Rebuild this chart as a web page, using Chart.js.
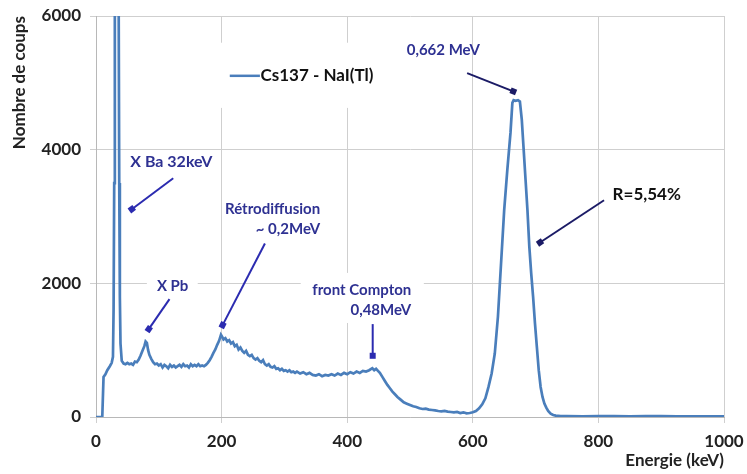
<!DOCTYPE html>
<html>
<head>
<meta charset="utf-8">
<script src="https://cdn.jsdelivr.net/npm/chart.js@4.4.1/dist/chart.umd.min.js"></script>
<style>
  html, body { margin: 0; padding: 0; background: #fff; }
  #wrap { width: 747px; height: 474px; }
</style>
</head>
<body>
<div id="wrap"><canvas id="spectre" width="747" height="474"></canvas></div>
<script>
// spectre Cs137 (keV / coups)
const energies = [0, 5, 10, 11, 12, 15, 18, 22, 25, 27, 28, 29, 30, 33, 36, 37, 38, 39, 41, 44, 47, 50, 53, 56, 59, 62, 65, 68, 71, 74, 77, 79, 81, 83, 85, 88, 91, 94, 97,
  100, 103, 106, 109, 112, 115, 118, 121, 124, 127, 130, 133, 136, 139, 142, 145, 148, 151, 154, 157, 160, 163, 166, 169, 172, 175, 178, 181, 184, 187, 190, 193, 196, 199,
  201, 203, 206, 209, 212, 215, 218, 221, 224, 227, 230, 233, 236, 239, 242, 245, 248, 251, 254, 257, 260, 263, 266, 269, 272, 275, 278, 281, 284, 287, 290, 293, 296, 299,
  302, 305, 308, 311, 314, 317, 320, 325, 330, 335, 340, 345, 350, 355, 360, 365, 370, 375, 380, 385, 390, 395, 400, 405, 410, 415, 420, 425, 430, 435, 440, 443, 446, 449,
  452, 456, 460, 464, 468, 472, 476, 480, 485, 490, 495, 500, 505, 510, 515, 520, 525, 530, 535, 540, 545, 550, 555, 560, 565, 570, 575, 580, 585, 590, 595, 600, 605, 610,
  615, 620, 625, 630, 635, 640, 645, 650, 655, 660, 663, 665, 668, 672, 675, 678, 681, 684, 687, 690, 693, 696, 699, 702, 705, 708, 711, 714, 717, 720, 724, 728, 732, 740,
  750, 775, 800, 825, 850, 875, 900, 925, 950, 975, 1000]
const coups = [0, 0, 0, 0, 600, 640, 700, 760, 810, 900, 1600, 3500, 6500, 8000, 6500, 3500, 1800, 1100, 840, 800, 790, 810, 790, 800, 780, 830, 820, 860, 920, 990, 1060, 1130, 1110, 1000, 930, 870, 820, 790, 800,
  770, 790, 740, 780, 760, 730, 780, 750, 770, 740, 760, 780, 750, 790, 760, 770, 740, 790, 760, 780, 760, 790, 760, 770, 760, 780, 810, 850, 900, 960, 1010, 1080, 1140, 1230,
  1200, 1160, 1180, 1130, 1150, 1100, 1120, 1060, 1080, 1010, 1040, 990, 960, 990, 930, 910, 930, 880, 860, 880, 840, 820, 850, 790, 770, 790, 750, 740, 760, 720, 730, 700, 720, 690,
  700, 680, 700, 670, 680, 660, 680, 650, 670, 640, 660, 630, 620, 640, 610, 630, 620, 640, 620, 650, 630, 660, 640, 670, 650, 680, 660, 690, 680, 700, 730, 700, 720, 690,
  660, 600, 540, 480, 430, 380, 340, 300, 260, 220, 200, 180, 160, 150, 130, 120, 125, 110, 105, 100, 90, 85, 90, 80, 75, 70, 75, 60, 70, 55, 60, 70, 90, 130,
  190, 280, 450, 650, 950, 1500, 2300, 3100, 3700, 4250, 4700, 4740, 4730, 4740, 4720, 4450, 4000, 3550, 3100, 2550, 2150, 1800, 1400, 1050, 700, 450, 300, 200, 140, 90, 50, 30, 20, 15,
  15, 10, 15, 12, 10, 14, 12, 9, 8, 11, 10]

const xTicks = [0, 200, 400, 600, 800, 1000]
const yTicks = [0, 2000, 4000, 6000]

// annotations : texte, ancre (keV, coups), fleche de -> vers
const annotTextes = [["X Ba 32keV"], ["X Pb"], ["Rétrodiffusion", "~ 0,2MeV"], ["front Compton", "0,48MeV"], ["0,662 MeV"], ["R=5,54%"]]
const annotAncres = [[120, 3817], [122, 1961], [357, 3114], [502, 1901], [553, 5494], [877, 3323]]
const annotFleches = [[[123, 3573], [57, 3109]], [[117, 1764], [84, 1315]], [[269, 2596], [201.6, 1375]], [[440.6, 1390], [440.6, 916]], [[591, 5146], [664.5, 4873]], [[809, 3243], [707, 2611]]]

let points = energies.map((e, i) => ({ x: e, y: coups[i] }))

const annotPlugin = {
    id: "annot",
    beforeDatasetsDraw(chart) {
        const ctx = chart.ctx
        const xs = chart.scales.x, ys = chart.scales.y
        ctx.save()
        ctx.fillStyle = "#fff"
        // fonds blancs (legende, X Pb, front Compton)
        const boites = [[190, 5600, 452, 4625], [81, 2110, 162, 1810], [326, 2156, 522, 1407]]
        boites.forEach(b => {
            let x0 = xs.getPixelForValue(b[0]), y0 = ys.getPixelForValue(b[1])
            let x1 = xs.getPixelForValue(b[2]), y1 = ys.getPixelForValue(b[3])
            ctx.fillRect(x0, y0, x1 - x0, y1 - y0)
        })
        ctx.restore()
    },
    afterDatasetsDraw(chart) {
        const ctx = chart.ctx
        const xs = chart.scales.x, ys = chart.scales.y
        ctx.save()
        // legende
        let ds = chart.data.datasets[0]
        let ly = ys.getPixelForValue(5105)
        ctx.strokeStyle = ds.borderColor
        ctx.lineWidth = 2.5
        ctx.beginPath()
        ctx.moveTo(xs.getPixelForValue(213), ly)
        ctx.lineTo(xs.getPixelForValue(261), ly)
        ctx.stroke()
        ctx.fillStyle = "#111"
        ctx.font = "bold 17px Lato"
        ctx.textAlign = "left"
        ctx.textBaseline = "middle"
        ctx.fillText(ds.label, xs.getPixelForValue(262), ly)

        annotTextes.forEach((lignes, i) => {
            let fonce = i >= 4
            let ax = xs.getPixelForValue(annotAncres[i][0]), ay = ys.getPixelForValue(annotAncres[i][1])
            ctx.font = i == 5 ? "bold 17px Lato" : (i == 0 ? "bold 16px Lato" : "bold 15px Lato")
            ctx.fillStyle = i == 5 ? "#111" : "#2e3192"
            ctx.textAlign = lignes.length > 1 ? "right" : "center"
            lignes.forEach((t, j) => ctx.fillText(t, ax, ay + j * 20))

            let f = annotFleches[i]
            let x0 = xs.getPixelForValue(f[0][0]), y0 = ys.getPixelForValue(f[0][1])
            let x1 = xs.getPixelForValue(f[1][0]), y1 = ys.getPixelForValue(f[1][1])
            ctx.strokeStyle = fonce ? "#1b1b66" : "#2b2bb0"
            ctx.fillStyle = ctx.strokeStyle
            ctx.lineWidth = 2
            ctx.beginPath()
            ctx.moveTo(x0, y0)
            ctx.lineTo(x1, y1)
            ctx.stroke()
            // petit carre au bout
            ctx.save()
            ctx.translate(x1, y1)
            ctx.rotate(Math.atan2(y1 - y0, x1 - x0))
            ctx.fillRect(-3, -3, 6, 6)
            ctx.restore()
        })
        ctx.restore()
    }
}

new Chart(document.getElementById("spectre"), {
    type: "line",
    data: {
        datasets: [{
            label: "Cs137 - NaI(Tl)",
            data: points,
            borderColor: "#4a7ebb",
            borderWidth: 2.7,
            pointRadius: 0,
            tension: 0,
            fill: false
        }]
    },
    plugins: [annotPlugin],
    options: {
        responsive: false,
        animation: false,
        layout: { padding: { top: 16, right: 23, left: 0, bottom: 0 } },
        plugins: { legend: { display: false }, tooltip: { enabled: false } },
        scales: {
            x: {
                type: "linear",
                min: 0,
                max: 1000,
                afterBuildTicks: s => { s.ticks = xTicks.map(v => ({ value: v })) },
                afterFit: s => { s.height = 57; s.paddingLeft = 0; s.paddingRight = 0 },
                ticks: { color: "#222", padding: 8, callback: v => String(v), font: { family: "Lato", size: 17, weight: "bold" } },
                grid: { color: "#cfcfcf", tickLength: 6, lineWidth: 1 },
                border: { color: "#b8b8b8" },
                title: { display: true, text: "Energie (keV)", align: "end", color: "#222", padding: { top: 0, bottom: 3 }, font: { family: "Lato", size: 17, weight: "bold" } }
            },
            y: {
                min: 0,
                max: 6000,
                afterBuildTicks: s => { s.ticks = yTicks.map(v => ({ value: v })) },
                afterFit: s => { s.width = 96; s.paddingTop = 0; s.paddingBottom = 0 },
                ticks: { color: "#222", padding: 9, callback: v => String(v), font: { family: "Lato", size: 17, weight: "bold" } },
                grid: { color: "#cfcfcf", tickLength: 6, lineWidth: 1 },
                border: { color: "#b8b8b8" },
                title: { display: true, text: "Nombre de coups", align: "end", color: "#222", padding: { top: 9, bottom: 0 }, font: { family: "Lato", size: 17, weight: "bold" } }
            }
        }
    }
})
</script>
</body>
</html>
